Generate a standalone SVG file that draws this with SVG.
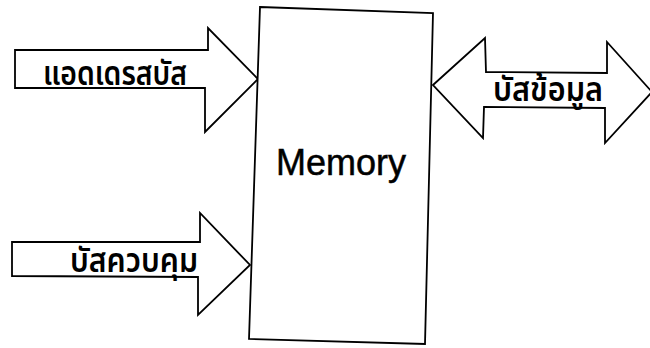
<svg xmlns="http://www.w3.org/2000/svg" width="650" height="348" viewBox="0 0 650 348">
  <style>
    .shape { fill: #ffffff; stroke: #000000; stroke-width: 1.8; stroke-linejoin: miter; }
    .thai { font-family: "Noto Sans Thai", "Noto Sans", "DejaVu Sans", sans-serif; font-size: 33px; font-weight: 600; fill: #000000; }
    .title { font-family: "Liberation Sans", Arial, sans-serif; font-size: 36px; fill: #000000; stroke: #000000; stroke-width: 0.5; }
  </style>
  <rect x="0" y="0" width="650" height="348" fill="#ffffff"/>

  <g id="connectors">
    <!-- address bus: one-way arrow into the memory block -->
    <g id="address-bus">
      <polygon class="shape" points="15,50 208,50 208,28 258,79 205,132 205,88 15,88"/>
      <text class="thai" x="43" y="85" textLength="144" lengthAdjust="spacingAndGlyphs">แอดเดรสบัส</text>
    </g>
    <!-- control bus: one-way arrow into the memory block -->
    <g id="control-bus">
      <polygon class="shape" points="12,242 200,242 200,213 250,265 198,315 198,277 12,276"/>
      <text class="thai" x="70" y="272" textLength="128" lengthAdjust="spacingAndGlyphs">บัสควบคุม</text>
    </g>
    <!-- data bus: two-way arrow -->
    <g id="data-bus">
      <polygon class="shape" points="433,85 485,38 486,72 607,73 607,42 652,92 605,143 605,108 484,107 483,138"/>
      <text class="thai" x="493" y="101" textLength="110" lengthAdjust="spacingAndGlyphs">บัสข้อมูล</text>
    </g>
  </g>

  <g id="memory">
    <polygon class="shape" points="260,7 433,13 425,344 249,339"/>
    <text class="title" x="341" y="175" text-anchor="middle">Memory</text>
  </g>
</svg>
